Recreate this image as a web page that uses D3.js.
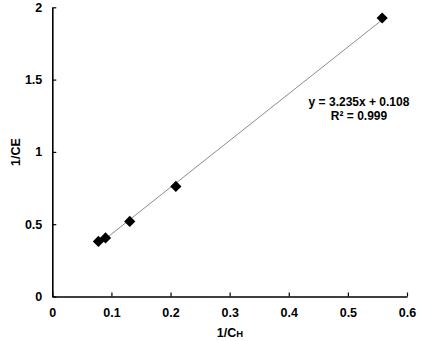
<!DOCTYPE html>
<html><head><meta charset="utf-8">
<script src="https://cdn.jsdelivr.net/npm/d3@7"></script>
<style>body{margin:0;background:#fff}svg{display:block}text{font-family:"Liberation Sans",Arial,sans-serif;font-weight:bold;fill:#000}</style>
</head><body>
<script>
const xValues = [0.078, 0.090, 0.131, 0.209, 0.558];
const yValues = [0.381, 0.405, 0.519, 0.761, 1.926];
const xTicks = [0, 0.1, 0.2, 0.3, 0.4, 0.5, 0.6];
const yTicks = [0, 0.5, 1, 1.5, 2];
const slope = 3.235, intercept = 0.108;
const eqLines = ["y = 3.235x + 0.108", "R² = 0.999"];

const W = 427, H = 341;
const svg = d3.select("body").append("svg").attr("width", W).attr("height", H);
const x = d3.scaleLinear().domain([0, 0.6]).range([52.3, 407]);
const y = d3.scaleLinear().domain([0, 2]).range([296.5, 7.3]);

// trend line
svg.append("line")
  .attr("x1", x(d3.min(xValues))).attr("y1", y(slope*d3.min(xValues)+intercept))
  .attr("x2", x(d3.max(xValues))).attr("y2", y(slope*d3.max(xValues)+intercept))
  .attr("stroke", "#8c8c8c").attr("stroke-width", 1);

const xAxis = svg.append("g").attr("transform", `translate(0,${y(0)})`)
  .call(d3.axisBottom(x).tickValues(xTicks).tickSizeInner(-4).tickSizeOuter(0).tickPadding(12).tickFormat(d3.format("")));
const yAxis = svg.append("g").attr("transform", `translate(${x(0)},0)`)
  .call(d3.axisLeft(y).tickValues(yTicks).tickSizeInner(-4).tickSizeOuter(0).tickPadding(10).tickFormat(d3.format("")));
[xAxis, yAxis].forEach(g => {
  g.select(".domain").attr("stroke", "#000").attr("stroke-width", 1.6);
  g.selectAll(".tick line").attr("stroke", "#000").attr("stroke-width", 1.2);
  g.selectAll(".tick text").attr("font-size", 12.5).attr("font-family", '"Liberation Sans",Arial,sans-serif').attr("font-weight", "bold").attr("fill", "#000");
});
xAxis.selectAll(".tick text").attr("dy", "0.71em");

// markers
svg.selectAll("path.pt").data(xValues).join("path").attr("class", "pt")
  .attr("d", d3.symbol(d3.symbolDiamond2, 80))
  .attr("transform", (d, i) => `translate(${x(d)},${y(yValues[i])})`)
  .attr("fill", "#000");

// axis titles
const xt = svg.append("text").attr("x", 230).attr("y", 337).attr("text-anchor", "middle").attr("font-size", 12.5);
xt.append("tspan").text("1/C");
xt.append("tspan").attr("font-size", 9.5).text("H");
svg.append("text").attr("transform", "translate(20,152) rotate(-90)").attr("text-anchor", "middle").attr("font-size", 12.5).text("1/CE");

// equation
svg.selectAll("text.eq").data(eqLines).join("text").attr("class", "eq")
  .attr("x", 359).attr("y", (d, i) => 106 + i * 14).attr("text-anchor", "middle").attr("font-size", 12).text(d => d);
</script>
</body></html>
